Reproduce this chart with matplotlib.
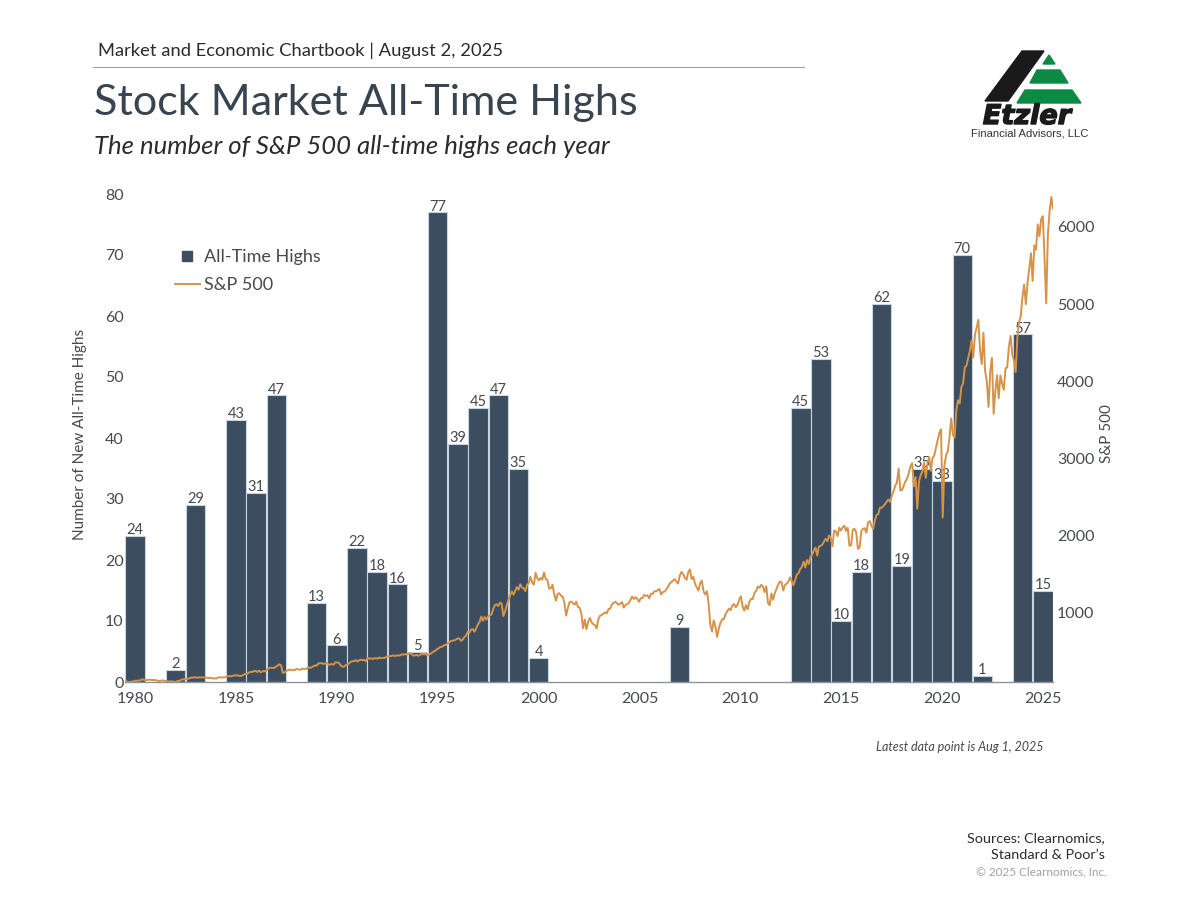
import numpy as np
import matplotlib
matplotlib.use("Agg")
import matplotlib.pyplot as plt
from matplotlib.patches import Polygon
from matplotlib.lines import Line2D
import matplotlib.patheffects as path_effects

plt.rcParams['font.family'] = ['Lato', 'DejaVu Sans']

bar_years = [1980, 1982, 1983, 1985, 1986, 1987, 1989, 1990, 1991, 1992, 1993, 1994,
             1995, 1996, 1997, 1998, 1999, 2000, 2007, 2013, 2014, 2015, 2016, 2017,
             2018, 2019, 2020, 2021, 2022, 2024, 2025]
bar_highs = [24, 2, 29, 43, 31, 47, 13, 6, 22, 18, 16, 5,
             77, 39, 45, 47, 35, 4, 9, 45, 53, 10, 18, 62,
             19, 35, 33, 70, 1, 57, 15]

# monthly S&P 500 levels, one row per year from 1980
sp_levels = [
    114, 114, 102, 106, 111, 114, 122, 122, 125, 127, 141, 136,
    130, 131, 136, 133, 133, 131, 131, 123, 116, 122, 126, 123,
    120, 113, 112, 116, 112, 110, 107, 120, 120, 134, 139, 141,
    145, 148, 153, 164, 162, 168, 163, 164, 166, 164, 166, 165,
    163, 157, 159, 160, 151, 153, 151, 167, 166, 166, 164, 167,
    180, 181, 181, 180, 190, 192, 191, 189, 182, 190, 202, 211,
    212, 227, 238, 235, 247, 251, 236, 253, 231, 244, 249, 242,
    274, 284, 292, 288, 290, 304, 318, 336, 322, 225, 230, 247,
    257, 268, 259, 261, 262, 274, 272, 262, 272, 279, 274, 278,
    297, 289, 295, 310, 321, 318, 346, 351, 349, 340, 346, 353,
    329, 332, 340, 331, 361, 358, 356, 323, 306, 304, 322, 330,
    344, 367, 375, 375, 390, 371, 387, 395, 388, 392, 375, 417,
    408, 412, 404, 415, 415, 408, 424, 414, 418, 419, 431, 436,
    439, 443, 452, 440, 450, 451, 448, 464, 459, 468, 462, 466,
    482, 467, 446, 451, 457, 444, 458, 475, 463, 472, 454, 459,
    470, 487, 501, 515, 533, 545, 562, 562, 584, 582, 605, 616,
    636, 640, 645, 654, 669, 671, 640, 652, 687, 705, 757, 741,
    786, 791, 757, 801, 848, 885, 954, 899, 947, 915, 955, 970,
    980, 1049, 1102, 1112, 1091, 1134, 1121, 960, 1017, 1099, 1164, 1229,
    1279, 1238, 1286, 1335, 1302, 1373, 1329, 1320, 1283, 1363, 1389, 1469,
    1394, 1366, 1520, 1452, 1421, 1455, 1431, 1525, 1437, 1429, 1315, 1320,
    1366, 1240, 1160, 1249, 1256, 1224, 1211, 1134, 965, 1060, 1139, 1148,
    1130, 1107, 1147, 1077, 1067, 990, 800, 916, 790, 886, 936, 880,
    856, 841, 800, 917, 964, 975, 990, 1008, 996, 1051, 1058, 1112,
    1131, 1145, 1126, 1107, 1121, 1141, 1070, 1104, 1115, 1130, 1174, 1212,
    1181, 1204, 1181, 1145, 1192, 1191, 1234, 1220, 1229, 1190, 1249, 1248,
    1280, 1281, 1295, 1311, 1240, 1270, 1277, 1304, 1336, 1378, 1401, 1418,
    1438, 1407, 1380, 1482, 1531, 1503, 1455, 1430, 1527, 1565, 1440, 1468,
    1379, 1331, 1290, 1386, 1420, 1280, 1240, 1283, 1120, 850, 760, 903,
    826, 690, 798, 873, 919, 919, 987, 1021, 1057, 1036, 1096, 1115,
    1074, 1104, 1169, 1217, 1089, 1031, 1102, 1049, 1141, 1183, 1181, 1258,
    1286, 1343, 1326, 1364, 1345, 1270, 1345, 1130, 1100, 1253, 1170, 1258,
    1312, 1366, 1408, 1398, 1290, 1362, 1379, 1407, 1460, 1412, 1360, 1426,
    1498, 1515, 1569, 1598, 1665, 1590, 1686, 1633, 1720, 1757, 1806, 1848,
    1745, 1859, 1872, 1884, 1924, 1960, 1931, 2003, 1972, 1865, 2068, 2059,
    1995, 2105, 2068, 2110, 2130, 2063, 2104, 1870, 1880, 2079, 2090, 2044,
    1830, 1850, 2060, 2090, 2097, 2040, 2174, 2190, 2130, 2090, 2199, 2270,
    2279, 2364, 2363, 2384, 2412, 2440, 2470, 2440, 2519, 2575, 2648, 2690,
    2870, 2590, 2590, 2648, 2705, 2740, 2816, 2902, 2940, 2640, 2760, 2351,
    2704, 2784, 2834, 2946, 2750, 2942, 3020, 2840, 3007, 3038, 3141, 3240,
    3330, 3380, 2237, 2912, 3044, 3100, 3271, 3520, 3310, 3270, 3622, 3756,
    3714, 3930, 3973, 4181, 4204, 4298, 4395, 4530, 4308, 4605, 4700, 4796,
    4400, 4225, 4630, 4132, 4000, 3670, 4130, 4305, 3580, 3872, 4080, 3780,
    4077, 3970, 3890, 4169, 4180, 4450, 4589, 4350, 4270, 4120, 4568, 4770,
    4846, 5096, 5254, 5000, 5278, 5460, 5660, 5300, 5762, 5705, 6032, 5880,
    6100, 6140, 5600, 5010, 5912, 6205, 6389, 6240,
]
sp_start, sp_end = 1980.0, 2025.58

left_ticks = [0, 10, 20, 30, 40, 50, 60, 70, 80]
right_ticks = [1000, 2000, 3000, 4000, 5000, 6000]
year_ticks = [1980, 1985, 1990, 1995, 2000, 2005, 2010, 2015, 2020, 2025]

bar_color = "#3b4d5e"
line_color = "#d69348"
text_color = "#444a50"
W, H = 1200, 900

fig = plt.figure(figsize=(12, 9), dpi=100, facecolor="white")
rect = [125 / W, 1 - 682 / H, (1053 - 125) / W, (682 - 194) / H]

# bars
ax = fig.add_axes(rect)
ax.bar(bar_years, bar_highs, width=0.96, color=bar_color, edgecolor="#c8d4df", linewidth=0.8)
for yr, v in zip(bar_years, bar_highs):
    ax.text(yr, v - 0.2, str(v), ha="center", va="bottom", fontsize=10.5, color=text_color)
ax.set_xlim(1979.5, 2025.5)
ax.set_ylim(0, 80)
ax.set_xticks(year_ticks)
ax.set_yticks(left_ticks)
ax.tick_params(length=0, labelsize=11.5, colors=text_color)
ax.tick_params(axis="x", pad=7)
ax.tick_params(axis="y", pad=1)
for s in ["top", "left", "right"]:
    ax.spines[s].set_visible(False)
ax.spines["bottom"].set_color("#8a949c")
ax.spines["bottom"].set_linewidth(1)

# S&P line has its own date scale
ax2 = fig.add_axes(rect, facecolor="none")
sp_x = np.linspace(sp_start, sp_end, len(sp_levels))
ax2.plot(sp_x, sp_levels, color=line_color, lw=1.4)
ax2.set_xlim(sp_start, sp_end)
ax2.set_ylim(106, 6427)
ax2.set_xticks([])
ax2.yaxis.tick_right()
ax2.set_yticks(right_ticks)
ax2.tick_params(length=0, labelsize=11.5, colors=text_color, pad=3)
for s in ax2.spines.values():
    s.set_visible(False)

# legend
handles = [
    Line2D([], [], color=bar_color, marker="s", ms=7.5, ls="none"),
    Line2D([], [], color=line_color, lw=1.4),
]
ax2.legend(handles, ["All-Time Highs", "S&P 500"], loc="upper left",
           bbox_to_anchor=(0.054, 0.887), frameon=False, fontsize=13,
           labelcolor=text_color, handlelength=1.37, handletextpad=0.22, labelspacing=0.65,
           borderpad=0, borderaxespad=0)

# page furniture in pixel coordinates
page = fig.add_axes([0, 0, 1, 1], facecolor="none")
page.set_xlim(0, W)
page.set_ylim(H, 0)
page.axis("off")

page.text(98, 51, "Market and Economic Chartbook | August 2, 2025", fontsize=13.2,
          color="#2b2b2b", va="center")
page.plot([93, 804], [67, 67], color="#a0a0a0", lw=0.8)
page.text(94, 103, "Stock Market All-Time Highs", fontsize=31.1, color="#38444f", va="center")
page.text(94, 147, "The number of S&P 500 all-time highs each year", fontsize=18.5,
          style="italic", color="#2b2b2b", va="center")

page.text(80, 434, "Number of New All-Time Highs", rotation=90, fontsize=11,
          color=text_color, ha="center", va="center")
page.text(1107, 434, "S&P 500", rotation=90, fontsize=11,
          color=text_color, ha="center", va="center")

page.text(1043, 747, "Latest data point is Aug 1, 2025", fontsize=9, style="italic",
          color=text_color, ha="right", va="center")
page.text(1105, 838, "Sources: Clearnomics,", fontsize=10.4, color="#2b2b2b", ha="right", va="center")
page.text(1105, 855, "Standard & Poor\u2019s", fontsize=10.4, color="#2b2b2b", ha="right", va="center")
page.text(1107, 872, "\u00a9 2025 Clearnomics, Inc.", fontsize=8.5, color="#a0a0a0", ha="right", va="center")

# logo
page.add_patch(Polygon([(1022, 51), (1044, 51), (1008, 101), (985, 101)], color="#1a1a1a"))
green = "#0c8a44"
page.add_patch(Polygon([(1049, 55), (1055, 64), (1043, 64)], color=green))
page.add_patch(Polygon([(1037, 70), (1060, 70), (1068, 83), (1030, 83)], color=green))
page.add_patch(Polygon([(1025, 90), (1072, 90), (1081, 103), (1017, 103)], color=green))
etz = page.text(1027, 117, "Etzler", fontsize=19.5, weight="bold", style="italic",
                family="DejaVu Sans", color="#1a1a1a", ha="center", va="center")
etz.set_path_effects([path_effects.withStroke(linewidth=1.0, foreground="#1a1a1a")])
page.text(1030, 133, "Financial Advisors, LLC", fontsize=8.1, family="Liberation Sans",
          color="#333333", ha="center", va="center")

fig.savefig("out.png", dpi=100)
